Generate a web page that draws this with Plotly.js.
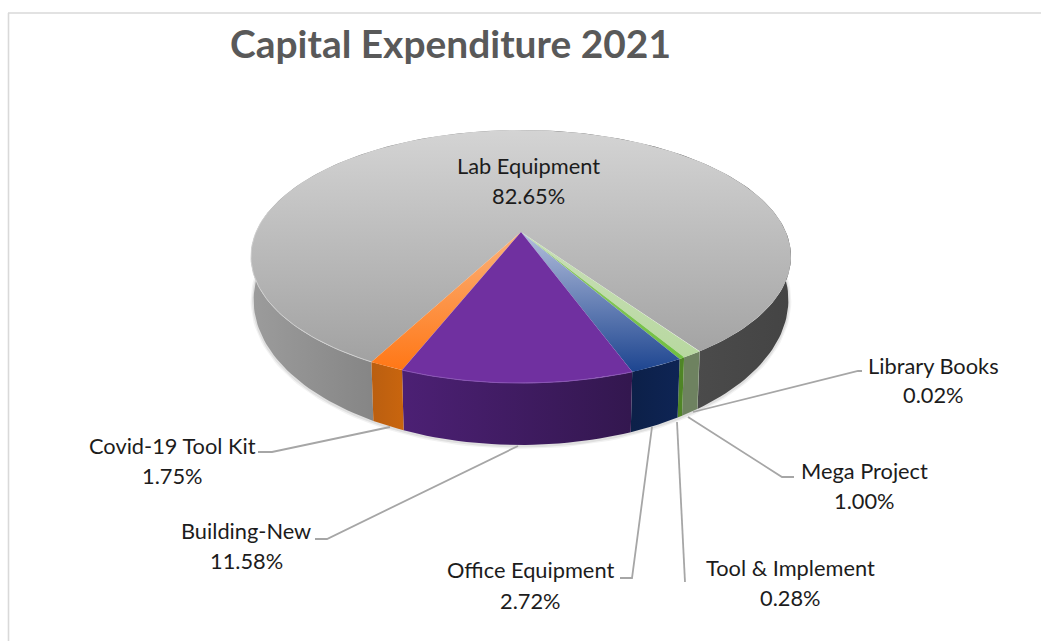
<!DOCTYPE html>
<html><head><meta charset="utf-8">
<script src="https://cdn.plot.ly/plotly-3.0.1.min.js"></script>
<style>html,body{margin:0;padding:0;background:#fff}#c{width:1041px;height:641px}</style>
</head><body><div id="c"></div>
<script>
// ---- data ----
const categories = ["Lab Equipment","Library Books","Mega Project","Tool & Implement","Office Equipment","Building-New","Covid-19 Tool Kit"];
const percents   = [82.65,0.02,1.00,0.28,2.72,11.58,1.75];
const chartTitle = "Capital Expenditure 2021";

// ---- styles ----
const topFill = {
  "Lab Equipment":["#d4d4d4","#9d9d9d"],
  "Library Books":["#9fbf85","#9fbf85"],
  "Mega Project":["#c9dfb8","#b8d8a0"],
  "Tool & Implement":["#92c96a","#70c040"],
  "Office Equipment":["#b4bfdc","#1d4590"],
  "Building-New":["#7030a0","#7030a0"],
  "Covid-19 Tool Kit":["#fbb27a","#ff7716"]
};
const wallFill = {
  "Library Books":["#6f8261","#6f8261"],
  "Mega Project":["#6e8260","#6e8260"],
  "Tool & Implement":["#4f8526","#4f8526"],
  "Office Equipment":["#0c2048","#0e2454"],
  "Building-New":["#4c2074","#33174f"],
  "Covid-19 Tool Kit":["#bb5f10","#c9650e"]
};
// ---- label placement (screen layout) ----
const labelPos = {
  "Lab Equipment":[528,165,195],
  "Library Books":[933,365,394],
  "Mega Project":[864,470,500],
  "Tool & Implement":[790,567,597],
  "Office Equipment":[530,569,600],
  "Building-New":[246,530,560],
  "Covid-19 Tool Kit":[172,445,475]
};
const leaders = {
  "Library Books":[[693,412],[858,371],[862,371]],
  "Mega Project":[[688,417],[782,477],[794,477]],
  "Tool & Implement":[[677,422],[685,582]],
  "Office Equipment":[[652,427],[632,578],[620,578]],
  "Building-New":[[518,446],[327,539],[315,539]],
  "Covid-19 Tool Kit":[[390,427],[272,452],[258,452]]
};

// ---- projection of the disc ----
const CX=521;
const topPlane={yc:232,A:264.9,B:121.8,k:0.1937};
const botPlane={yc:272.4,A:262.5,B:139.8,k:0.19};
const anchorAngle=-21.6; // left edge of Building-New, degrees from the viewer direction
function proj(p,deg){const t=deg*Math.PI/180,w=1-p.k*Math.cos(t);
  return [CX+p.A*Math.sin(t)/w,p.yc+p.B*Math.cos(t)/w];}
function arc(p,a,b){const n=Math.max(2,Math.ceil(Math.abs(b-a)/1.5));const o=[];
  for(let i=0;i<=n;i++)o.push(proj(p,a+(b-a)*i/n));return o;}

// slice angles come from the percentages
const slices={};
(function(){
  let a=anchorAngle;
  const seq=["Building-New","Office Equipment","Tool & Implement","Mega Project","Library Books","Lab Equipment","Covid-19 Tool Kit"];
  seq.forEach(n=>{const s=percents[categories.indexOf(n)]*3.6;slices[n]=[a,a+s];a+=s;});
})();

const traces=[];
function poly(pts,colors,type,start,stop){
  traces.push({type:"scatter",mode:"lines",x:pts.map(p=>p[0]),y:pts.map(p=>p[1]),
    fill:"toself",line:{width:0,color:colors[0]},hoverinfo:"skip",showlegend:false,
    fillgradient:{type:type,colorscale:[[0,colors[0]],[1,colors[1]]],start:start,stop:stop}});
}
// soft shadow under the disc
[[6,"rgba(0,0,0,0.05)"],[3,"rgba(0,0,0,0.08)"]].forEach(s=>{
  const pts=arc(botPlane,-110,110);
  traces.push({type:"scatter",mode:"lines",x:pts.map(p=>p[0]),y:pts.map(p=>p[1]+1),line:{width:s[0],color:s[1]},hoverinfo:"skip",showlegend:false});
});
// walls
const wall=(a,b)=>arc(topPlane,a,b).concat(arc(botPlane,b,a));
const lab=slices["Lab Equipment"];
poly(wall(lab[0],180),["#4f4f4f","#444444"],"horizontal",640,790);
poly(wall(180,lab[1]),["#9c9c9c","#858585"],"horizontal",250,375);
categories.forEach(n=>{ if(!wallFill[n])return; const s=slices[n];
  const a=arc(botPlane,s[0],s[1]);
  poly(wall(s[0],s[1]),wallFill[n],"horizontal",Math.min(...a.map(p=>p[0])),Math.max(...a.map(p=>p[0])));
});
// top faces
const apex=[CX,topPlane.yc];
["Lab Equipment","Covid-19 Tool Kit","Library Books","Mega Project","Tool & Implement","Office Equipment","Building-New"].forEach(n=>{
  const s=slices[n];
  const pts=[apex].concat(arc(topPlane,s[0],s[1])).concat([apex]);
  const ys=pts.map(p=>p[1]);
  const isLab=n==="Lab Equipment";
  poly(pts,topFill[n],"vertical",isLab?130:Math.min(...ys),isLab?383:Math.max(...ys));
});
// rim highlights
(function(){
  const s=slices["Building-New"],p=arc(topPlane,s[0],s[1]);
  traces.push({type:"scatter",mode:"lines",x:p.map(q=>q[0]),y:p.map(q=>q[1]),line:{width:1,color:"#8a55b5"},hoverinfo:"skip",showlegend:false});
  const q=arc(topPlane,-100,lab[1]-360);
  traces.push({type:"scatter",mode:"lines",x:q.map(r=>r[0]),y:q.map(r=>r[1]),line:{width:1,color:"#d0d0d0"},hoverinfo:"skip",showlegend:false});
})();
// leader lines
Object.keys(leaders).forEach(n=>{
  traces.push({type:"scatter",mode:"lines",x:leaders[n].map(p=>p[0]),y:leaders[n].map(p=>p[1]),
    line:{width:1.8,color:"#a6a6a6"},hoverinfo:"skip",showlegend:false});
});

const FONT="Lato, Carlito, Calibri, sans-serif";
const annotations=[];
categories.forEach((n,i)=>{
  const p=labelPos[n];
  const common={xref:"x",yref:"y",x:p[0],showarrow:false,xanchor:"center",yanchor:"middle",
    font:{family:FONT,size:21.8,color:"#1c1c1c"}};
  annotations.push(Object.assign({},common,{y:p[1],text:n}));
  annotations.push(Object.assign({},common,{y:p[2],text:percents[i].toFixed(2)+"%"}));
});
annotations.push({xref:"x",yref:"y",x:450.5,y:43,showarrow:false,xanchor:"center",yanchor:"middle",
  text:"<b>"+chartTitle+"</b>",font:{family:FONT,size:38.9,color:"#595959"}});

const layout={width:1041,height:641,margin:{l:0,r:0,t:0,b:0,pad:0},paper_bgcolor:"#fff",plot_bgcolor:"#fff",showlegend:false,
  xaxis:{range:[0,1041],visible:false,fixedrange:true},
  yaxis:{range:[641,0],visible:false,fixedrange:true},
  annotations:annotations,
  shapes:[
    {type:"line",xref:"x",yref:"y",x0:8.5,x1:8.5,y0:13,y1:641,line:{color:"#d9d9d9",width:1.6}},
    {type:"line",xref:"x",yref:"y",x0:8,x1:1041,y0:13,y1:13,line:{color:"#d9d9d9",width:1.6}}
  ]};
Plotly.newPlot("c",traces,layout,{displayModeBar:false,staticPlot:true});
</script></body></html>
